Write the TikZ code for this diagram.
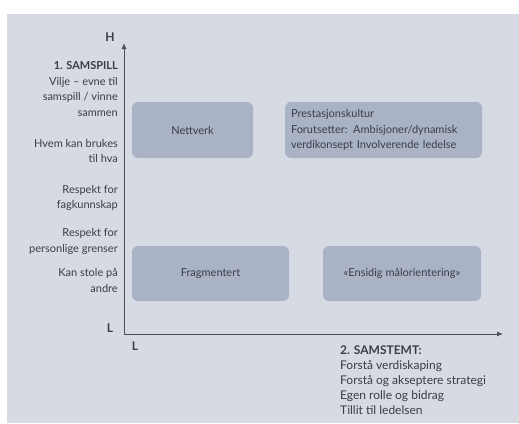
\documentclass[tikz,border=0pt]{standalone}
\usepackage{fontspec}
\setmainfont{Lato}
\usetikzlibrary{arrows.meta}
\definecolor{panel}{HTML}{D6DBE3}
\definecolor{boxc}{HTML}{A9B3C5}
\definecolor{ink}{HTML}{3A3D46}
\definecolor{axisc}{HTML}{4A4E58}
\begin{document}
\begin{tikzpicture}[x=1pt,y=-1pt,
  font=\fontsize{11}{15.5}\selectfont, text=ink,
  quad/.style={fill=boxc, rounded corners=6pt, inner sep=0pt},
  lefttext/.style={anchor=east, align=right, inner sep=0pt},
  axisline/.style={draw=axisc, line width=1pt, -{Latex[length=6pt,width=5pt]}},
  axlabel/.style={font=\fontsize{12}{14}\selectfont\bfseries, inner sep=0pt}]
\useasboundingbox (0,0) rectangle (519,423);
\fill[white] (0,0) rectangle (519,423);
\fill[panel] (7,14) rectangle (519,423);
% boxes
\node[quad, minimum width=121pt, minimum height=56pt] (nett) at (192.5,130) {Nettverk};
\node[quad, minimum width=197pt, minimum height=56pt, text width=185pt, align=left, inner xsep=6pt] (prest) at (383.5,130)
  {Prestasjonskultur\\Forutsetter: Ambisjoner/dynamisk\\verdikonsept Involverende ledelse};
\node[quad, minimum width=157pt, minimum height=55pt] (frag) at (210.5,273.5) {Fragmentert};
\node[quad, minimum width=158pt, minimum height=55pt] (ensi) at (402,273.5) {«Ensidig målorientering»};
% axes
\coordinate (O) at (124,334);
\coordinate (ytop) at (124,43);
\coordinate (xend) at (503,334);
\draw[axisline] (O) -- (ytop);
\draw[axisline] (O) -- (xend);
\node[axlabel] (H) at (110,37) {H};
\node[axlabel] (Ly) at (110,328) {L};
\node[axlabel] (Lx) at (135,346) {L};
% left texts
\node[lefttext] (g1) at (118,89) {\textbf{1. SAMSPILL}\\Vilje – evne til\\samspill / vinne\\sammen};
\node[lefttext] (g2) at (118,151) {Hvem kan brukes\\til hva};
\node[lefttext] (g3) at (118,198) {Respekt for\\fagkunnskap};
\node[lefttext] (g4) at (118,241.5) {Respekt for\\personlige grenser};
\node[lefttext] (g5) at (118,280.5) {Kan stole på\\andre};
% bottom text
\node[anchor=west, align=left, inner sep=0pt, font=\fontsize{12}{15}\selectfont] (samstemt) at (340,380)
  {\textbf{2. SAMSTEMT:}\\Forstå verdiskaping\\Forstå og akseptere strategi\\Egen rolle og bidrag\\Tillit til ledelsen};
\end{tikzpicture}
\end{document}
